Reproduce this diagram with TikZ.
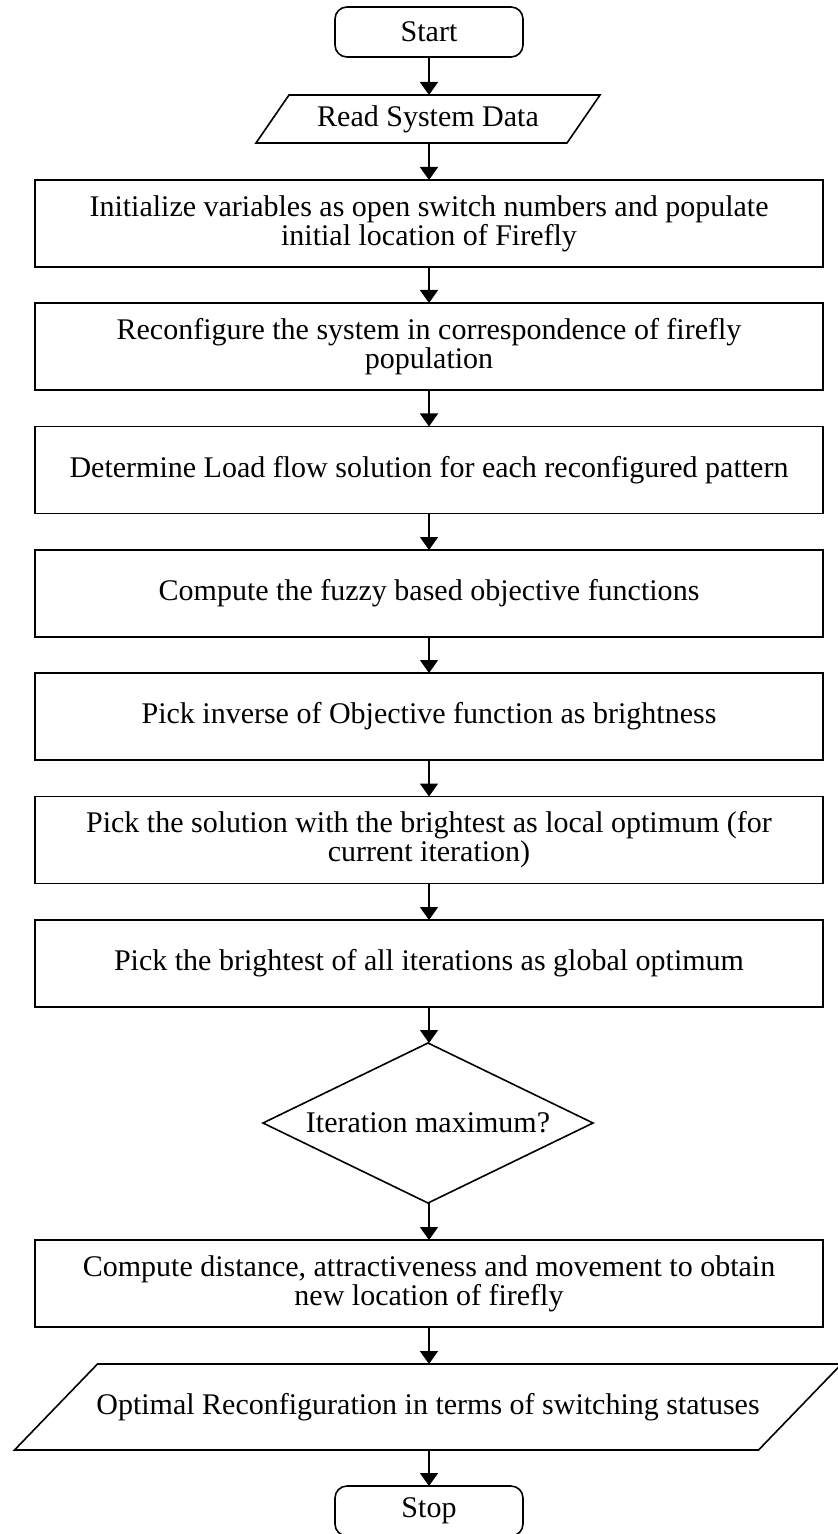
\documentclass[tikz,border=0pt]{standalone}
\usepackage{fontspec}
\setmainfont{Liberation Serif}
\usetikzlibrary{shapes.geometric,arrows.meta}
\begin{document}
\begin{tikzpicture}[x=0.5pt,y=-0.5pt,
  every node/.style={font=\fontsize{15}{14.5}\selectfont, inner sep=0pt, outer sep=0pt},
  procbox/.style={draw, line width=0.8pt, minimum width=394pt, minimum height=43.5pt, align=center},
  termbox/.style={draw, rounded corners=6pt, line width=0.8pt, minimum width=94pt, minimum height=25pt},
  iobox/.style={align=center},
  decbox/.style={draw, diamond, aspect=2.0625, minimum width=165pt, minimum height=80pt, line width=0.8pt},
  flow/.style={-{Triangle[width=9pt,length=6.5pt]}, line width=0.8pt},
  edge/.style={line width=0.8pt, line join=miter}
]
\useasboundingbox (0,0) rectangle (838,1534);

\node[termbox] (start) at (429,32) {Start};
\node[iobox, minimum width=155.5pt, minimum height=24pt] (read) at (428,119) {Read System Data};
\draw[edge] ([xshift=-8.25pt]read.south west) -- ([xshift=8.25pt]read.north west) -- ([xshift=8.25pt]read.north east) -- ([xshift=-8.25pt]read.south east) -- cycle;

\node[procbox] (b1) at (429,223.5) {Initialize variables as open switch numbers and populate\\initial location of Firefly};
\node[procbox] (b2) at (429,346.5) {Reconfigure the system in correspondence of firefly\\population};
\node[procbox] (b3) at (429,470) {Determine Load flow solution for each reconfigured pattern};
\node[procbox] (b4) at (429,593.5) {Compute the fuzzy based objective functions};
\node[procbox] (b5) at (429,716.5) {Pick inverse of Objective function as brightness};
\node[procbox] (b6) at (429,840) {Pick the solution with the brightest as local optimum (for\\current iteration)};
\node[procbox] (b7) at (429,963.5) {Pick the brightest of all iterations as global optimum};
\node[decbox] (dec) at (428,1123) {Iteration maximum?};
\node[procbox] (b8) at (429,1283.5) {Compute distance, attractiveness and movement to obtain\\new location of firefly};

\node[iobox, minimum width=372pt, minimum height=43pt] (out) at (428,1407) {Optimal Reconfiguration in terms of switching statuses};
\draw[edge] ([xshift=-20.75pt]out.south west) -- ([xshift=20.75pt]out.north west) -- ([xshift=20.75pt]out.north east) -- ([xshift=-20.75pt]out.south east) -- cycle;

\node[termbox] (stop) at (429,1511) {Stop};

\draw[flow] (start.south) -- (start.south |- read.north);
\draw[flow] (start.south |- read.south) -- (b1.north);
\draw[flow] (b1.south) -- (b2.north);
\draw[flow] (b2.south) -- (b3.north);
\draw[flow] (b3.south) -- (b4.north);
\draw[flow] (b4.south) -- (b5.north);
\draw[flow] (b5.south) -- (b6.north);
\draw[flow] (b6.south) -- (b7.north);
\draw[flow] (b7.south) -- (b7.south |- dec.north);
\draw[flow] (b7.south |- dec.south) -- (b8.north);
\draw[flow] (b8.south) -- (b8.south |- out.north);
\draw[flow] (b8.south |- out.south) -- (stop.north);
\end{tikzpicture}
\end{document}
